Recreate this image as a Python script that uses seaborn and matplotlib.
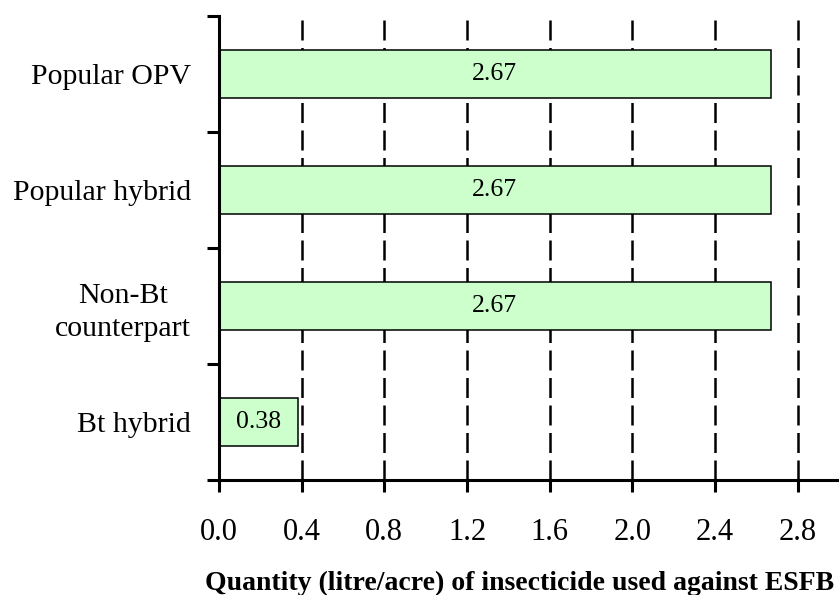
import numpy as np
import pandas as pd
import seaborn as sns
import matplotlib.pyplot as plt

categories = ["Popular OPV", "Popular hybrid", "Non-Bt\ncounterpart", "Bt hybrid"]
quantity = [2.67, 2.67, 2.67, 0.38]
x_ticks = [0.0, 0.4, 0.8, 1.2, 1.6, 2.0, 2.4, 2.8]

df = pd.DataFrame({"variety": categories, "quantity": quantity})

sns.set_style("ticks")
plt.rcParams["font.family"] = ["Liberation Serif", "DejaVu Serif"]
plt.rcParams["text.color"] = "black"
plt.rcParams["xtick.color"] = "black"
plt.rcParams["ytick.color"] = "black"
plt.rcParams["axes.labelcolor"] = "black"

fig = plt.figure(figsize=(8.39, 5.95), dpi=100)
ax = fig.add_axes([0.261, 0.193, 0.739, 0.780])

# dashed vertical grid behind the bars
for xv in x_ticks[1:]:
    ax.axvline(xv, color="black", lw=1.8, ls=(0, (8, 3)), zorder=0)

sns.barplot(data=df, x="quantity", y="variety", orient="h", width=0.41,
            color="#CCFFCC", edgecolor="black", linewidth=1.1, saturation=1,
            ax=ax, zorder=2)

for c in ax.containers:
    ax.bar_label(c, labels=[f"{v:.2f}" for v in quantity], label_type="center",
                 fontsize=18.5, color="black")

ax.set_xlim(0, 3.0)
ax.set_ylim(3.5, -0.5)
ax.set_xticks(x_ticks)
ax.set_xticklabels([f"{v:.1f}" for v in x_ticks], fontsize=22)

# category labels without ticks, boundary ticks as minor ticks
ax.set_yticks(range(len(categories)))
ax.set_yticklabels(categories, fontsize=21.5, multialignment="center",
                   linespacing=1.35)
ax.set_yticks(np.arange(-0.5, len(categories), 1.0), minor=True)
ax.tick_params(axis="y", which="major", length=0, pad=20)
ax.tick_params(axis="y", which="minor", length=8.6, width=2.2, color="black")
ax.tick_params(axis="x", length=8.6, width=2.2, color="black", pad=19)

ax.set_ylabel("")
ax.set_xlabel("Quantity (litre/acre) of insecticide used against ESFB",
              fontsize=20, fontweight="bold", labelpad=17)
ax.xaxis.label.set_x(0.484)

for side in ["top", "right"]:
    ax.spines[side].set_visible(False)
for side in ["left", "bottom"]:
    ax.spines[side].set_linewidth(2.2)
    ax.spines[side].set_color("black")

fig.savefig("out.png", dpi=100)
